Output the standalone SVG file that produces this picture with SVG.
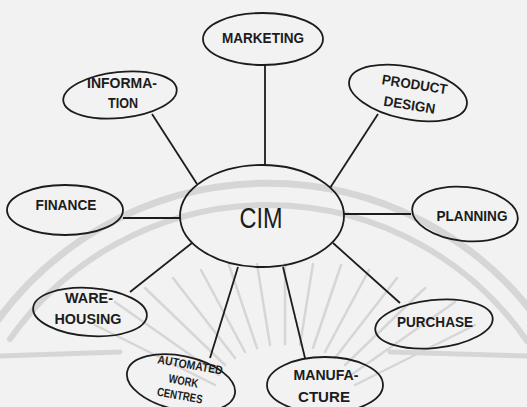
<svg xmlns="http://www.w3.org/2000/svg" width="527" height="407" viewBox="0 0 527 407">
  <style>
    .bg { fill: #f2f2f2; }
    .wm { fill: none; stroke: #d6d6d6; stroke-linecap: round; }
    .node ellipse { fill: none; stroke: #1c1c1c; stroke-width: 1.8; }
    .node text { font-family: "Liberation Sans", Arial, sans-serif; font-weight: bold; fill: #1c1c1c; text-anchor: middle; }
    .lbl { font-size: 14px; }
    .small { font-size: 12px; }
    .hub { font-size: 29px; }
    #connectors line { stroke: #1c1c1c; stroke-width: 1.8; }
  </style>

  <rect class="bg" x="0" y="0" width="527" height="407"/>

  <!-- faint background seal -->
  <g id="seal">
    <path class="wm" stroke-width="7" d="M -5 324 A 335 335 0 0 1 535 316"/>
    <path class="wm" stroke-width="6" d="M 10 339 A 315 315 0 0 1 527 341"/>
    <path class="wm" stroke-width="5" d="M 0 356 L 120 352 M 390 352 L 527 356"/>
    <g stroke-width="2.5" class="wm" transform="translate(285 420)">
      <line x1="-70" y1="-35" x2="-190" y2="-95"/>
      <line x1="-66" y1="-45" x2="-170" y2="-118"/>
      <line x1="-60" y1="-55" x2="-140" y2="-132"/>
      <line x1="-50" y1="-62" x2="-112" y2="-142"/>
      <line x1="-40" y1="-68" x2="-84" y2="-150"/>
      <line x1="-28" y1="-72" x2="-56" y2="-155"/>
      <line x1="-15" y1="-75" x2="-28" y2="-156"/>
      <line x1="0" y1="-76" x2="0" y2="-156"/>
      <line x1="15" y1="-75" x2="28" y2="-156"/>
      <line x1="28" y1="-72" x2="56" y2="-155"/>
      <line x1="40" y1="-68" x2="84" y2="-150"/>
      <line x1="50" y1="-62" x2="112" y2="-142"/>
      <line x1="60" y1="-55" x2="140" y2="-132"/>
      <line x1="66" y1="-45" x2="170" y2="-118"/>
      <line x1="70" y1="-35" x2="190" y2="-95"/>
    </g>
  </g>

  <g id="connectors">
    <line x1="265" y1="65" x2="265" y2="165"/>
    <line x1="152" y1="114" x2="197" y2="184"/>
    <line x1="378" y1="114" x2="330" y2="188"/>
    <line x1="123" y1="218" x2="181" y2="218"/>
    <line x1="343" y1="214" x2="411" y2="214"/>
    <line x1="130" y1="292" x2="192" y2="243"/>
    <line x1="210" y1="358" x2="238" y2="267"/>
    <line x1="305" y1="358" x2="283" y2="267"/>
    <line x1="400" y1="303" x2="333" y2="243"/>
  </g>

  <g id="cim" class="node">
    <ellipse cx="262" cy="216" rx="82" ry="51"/>
    <text class="hub" x="261" y="228" textLength="43" lengthAdjust="spacingAndGlyphs" style="font-weight:normal">CIM</text>
  </g>

  <g id="marketing" class="node">
    <ellipse cx="263" cy="39" rx="60" ry="26"/>
    <text class="lbl" x="263" y="43" textLength="82" lengthAdjust="spacingAndGlyphs">MARKETING</text>
  </g>

  <g id="information" class="node">
    <ellipse cx="120" cy="95" rx="57" ry="23" transform="rotate(-6 120 95)"/>
    <text class="lbl" x="122" y="88" textLength="70" lengthAdjust="spacingAndGlyphs">INFORMA-</text>
    <text class="lbl" x="123" y="108" textLength="30" lengthAdjust="spacingAndGlyphs">TION</text>
  </g>

  <g id="product-design" class="node">
    <ellipse cx="408" cy="93" rx="60" ry="26" transform="rotate(12 408 93)"/>
    <g transform="rotate(9 412 95)">
      <text class="lbl" x="413" y="89" textLength="66" lengthAdjust="spacingAndGlyphs">PRODUCT</text>
      <text class="lbl" x="411" y="110" textLength="52" lengthAdjust="spacingAndGlyphs">DESIGN</text>
    </g>
  </g>

  <g id="finance" class="node">
    <ellipse cx="65" cy="210" rx="58" ry="25"/>
    <text class="lbl" x="66" y="210" textLength="61" lengthAdjust="spacingAndGlyphs">FINANCE</text>
  </g>

  <g id="planning" class="node">
    <ellipse cx="465" cy="214" rx="53" ry="27" transform="rotate(6 465 214)"/>
    <text class="lbl" x="472" y="221" textLength="71" lengthAdjust="spacingAndGlyphs">PLANNING</text>
  </g>

  <g id="warehousing" class="node">
    <ellipse cx="90" cy="312" rx="57" ry="24" transform="rotate(4 90 312)"/>
    <text class="lbl" x="89" y="303" textLength="48" lengthAdjust="spacingAndGlyphs">WARE-</text>
    <text class="lbl" x="88" y="324" textLength="67" lengthAdjust="spacingAndGlyphs">HOUSING</text>
  </g>

  <g id="purchase" class="node">
    <ellipse cx="434" cy="324" rx="59" ry="24" transform="rotate(-6 434 324)"/>
    <text class="lbl" x="435" y="327" textLength="76" lengthAdjust="spacingAndGlyphs">PURCHASE</text>
  </g>

  <g id="manufacture" class="node">
    <ellipse cx="325" cy="385" rx="58" ry="28"/>
    <text class="lbl" x="326" y="380" textLength="65" lengthAdjust="spacingAndGlyphs">MANUFA-</text>
    <text class="lbl" x="324" y="402" textLength="52" lengthAdjust="spacingAndGlyphs">CTURE</text>
  </g>

  <g id="automated-work-centres" class="node">
    <ellipse cx="181" cy="383" rx="55" ry="27" transform="rotate(12 181 383)"/>
    <g transform="rotate(10 183 383)">
      <text class="small" x="187" y="368" textLength="66" lengthAdjust="spacingAndGlyphs">AUTOMATED</text>
      <text class="small" x="183" y="385" textLength="30" lengthAdjust="spacingAndGlyphs">WORK</text>
      <text class="small" x="182" y="400" textLength="46" lengthAdjust="spacingAndGlyphs">CENTRES</text>
    </g>
  </g>
</svg>
